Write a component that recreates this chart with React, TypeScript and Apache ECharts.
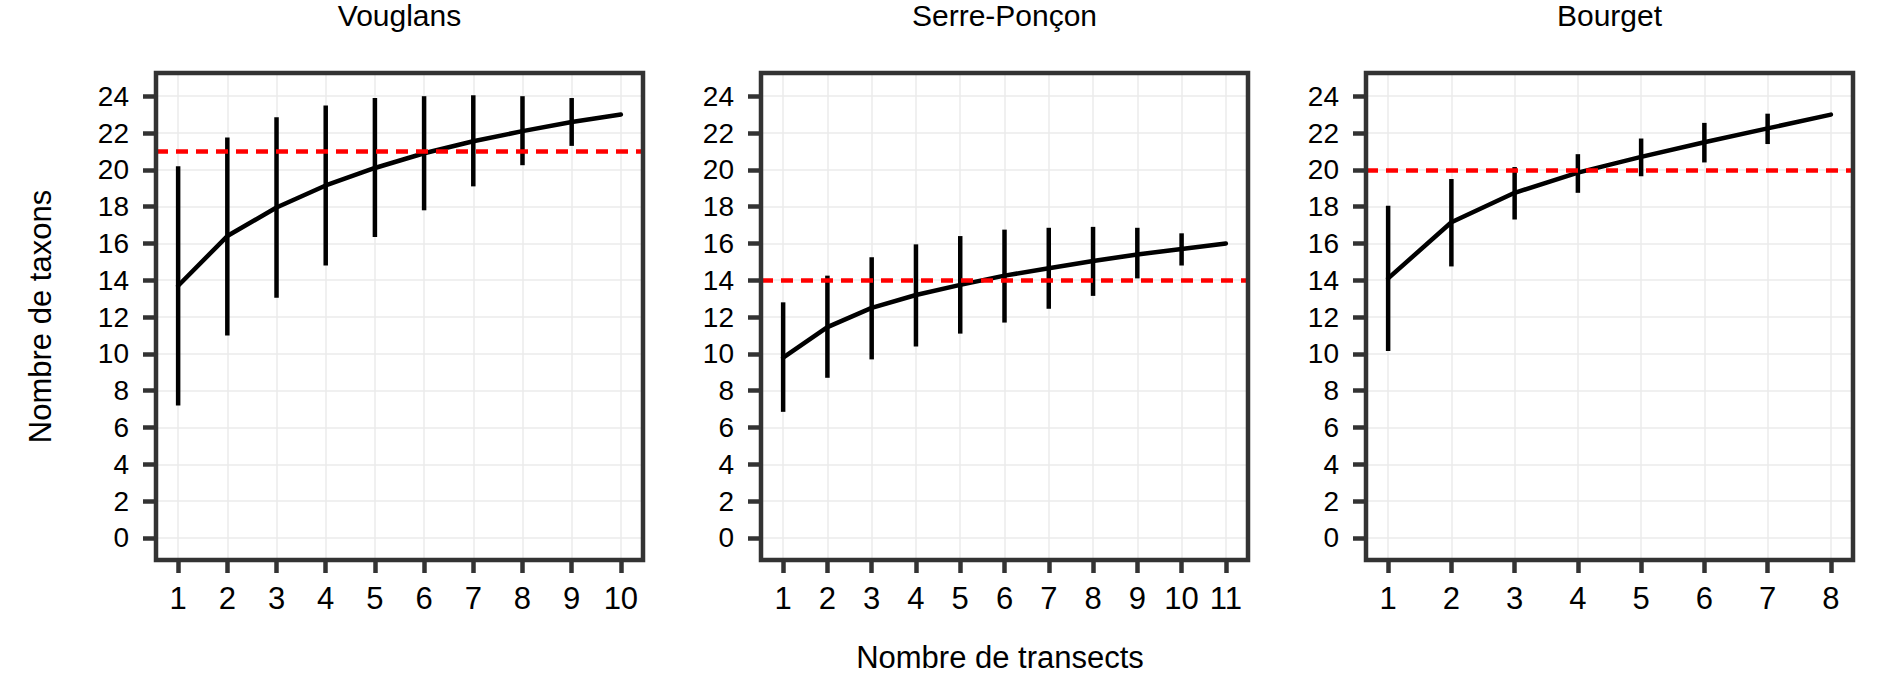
import React, { useEffect, useRef } from 'react';
import * as echarts from 'echarts';

// ---- Data ----
const panelTitles = ['Vouglans', 'Serre-Ponçon', 'Bourget'];
const yTicks = [0, 2, 4, 6, 8, 10, 12, 14, 16, 18, 20, 22, 24];
const xAxisTitle = 'Nombre de transects';
const yAxisTitle = 'Nombre de taxons';

const vouglansX = [1, 2, 3, 4, 5, 6, 7, 8, 9, 10];
const vouglansMean = [13.7, 16.4, 17.95, 19.15, 20.1, 20.9, 21.55, 22.1, 22.6, 23.0];
const vouglansLow = [7.2, 11.0, 13.05, 14.8, 16.35, 17.8, 19.1, 20.25, 21.3, null];
const vouglansHigh = [20.2, 21.75, 22.85, 23.5, 23.9, 24.0, 24.05, 24.0, 23.9, null];
const vouglansRef = 21;

const serreX = [1, 2, 3, 4, 5, 6, 7, 8, 9, 10, 11];
const serreMean = [9.8, 11.45, 12.5, 13.2, 13.75, 14.25, 14.65, 15.05, 15.4, 15.7, 16.0];
const serreLow = [6.85, 8.7, 9.7, 10.4, 11.1, 11.7, 12.45, 13.15, 14.1, 14.8, null];
const serreHigh = [12.8, 14.25, 15.25, 15.95, 16.4, 16.75, 16.85, 16.9, 16.85, 16.55, null];
const serreRef = 14;

const bourgetX = [1, 2, 3, 4, 5, 6, 7, 8];
const bourgetMean = [14.1, 17.15, 18.75, 19.85, 20.7, 21.5, 22.25, 23.0];
const bourgetLow = [10.15, 14.75, 17.3, 18.75, 19.65, 20.4, 21.4, null];
const bourgetHigh = [18.05, 19.5, 20.15, 20.85, 21.7, 22.55, 23.05, null];
const bourgetRef = 20;

const panels = [
  { title: panelTitles[0], x: vouglansX, mean: vouglansMean, low: vouglansLow, high: vouglansHigh, ref: vouglansRef },
  { title: panelTitles[1], x: serreX, mean: serreMean, low: serreLow, high: serreHigh, ref: serreRef },
  { title: panelTitles[2], x: bourgetX, mean: bourgetMean, low: bourgetLow, high: bourgetHigh, ref: bourgetRef },
];

// ---- Layout ----
const W = 1882;
const H = 679;
const PANEL_LEFT = [156, 761, 1366];
const PANEL_W = 487;
const PANEL_TOP = 73;
const PANEL_H = 487;
const Y_MIN = -1.2;
const Y_MAX = 25.26;
const FONT = "'Liberation Sans', Arial, sans-serif";
const BORDER = '#333333';
const GRID = '#ebebeb';

export default function App() {
  const ref = useRef<HTMLDivElement>(null);

  useEffect(() => {
    document.body.style.margin = '0';
    if (!ref.current) return;
    const chart = echarts.init(ref.current, undefined, { renderer: 'svg' });

    const grids: any[] = [];
    const xAxes: any[] = [];
    const yAxes: any[] = [];
    const series: any[] = [];
    const graphics: any[] = [];

    panels.forEach((p, i) => {
      const n = p.x.length;
      const span = p.x[n - 1] - p.x[0];
      grids.push({
        show: true,
        left: PANEL_LEFT[i],
        top: PANEL_TOP,
        width: PANEL_W,
        height: PANEL_H,
        borderColor: BORDER,
        borderWidth: 4.5,
        backgroundColor: 'rgba(0,0,0,0)',
        z: 10,
      });
      xAxes.push({
        type: 'value',
        gridIndex: i,
        position: 'bottom',
        min: p.x[0] - 0.05 * span,
        max: p.x[n - 1] + 0.05 * span,
        interval: 1,
        axisLine: { show: false, onZero: false },
        axisTick: { show: true, customValues: p.x, length: 13, lineStyle: { color: BORDER, width: 4.5 } },
        axisLabel: {
          customValues: p.x,
          margin: 23,
          fontSize: 31,
          color: '#000',
          fontFamily: FONT,
          formatter: (v: number) => (Number.isInteger(v) ? String(v) : ''),
        },
        splitLine: { show: true, lineStyle: { color: GRID, width: 1.5 } },
      });
      yAxes.push({
        type: 'value',
        gridIndex: i,
        position: 'left',
        min: Y_MIN,
        max: Y_MAX,
        interval: 2,
        axisLine: { show: false, onZero: false },
        axisTick: { show: true, customValues: yTicks, length: 13, lineStyle: { color: BORDER, width: 4.5 } },
        axisLabel: {
          customValues: yTicks,
          margin: 27,
          fontSize: 28,
          color: '#000',
          fontFamily: FONT,
          formatter: (v: number) => (Number.isInteger(v) && v >= 0 ? String(v) : ''),
        },
        splitLine: { show: true, lineStyle: { color: GRID, width: 1.5 } },
      });
      series.push({
        type: 'line',
        xAxisIndex: i,
        yAxisIndex: i,
        data: p.x.map((xv, k) => [xv, p.mean[k]]),
        showSymbol: false,
        symbol: 'none',
        lineStyle: { color: '#000', width: 4.5, cap: 'round', join: 'round' },
        z: 2,
        markLine: {
          silent: true,
          symbol: ['none', 'none'],
          label: { show: false },
          lineStyle: { color: '#ff0000', type: [12, 8], width: 4.5 },
          data: [{ yAxis: p.ref }],
          z: 5,
        },
      });
      series.push({
        type: 'custom',
        xAxisIndex: i,
        yAxisIndex: i,
        data: p.x
          .map((xv, k) => [xv, p.low[k], p.high[k]])
          .filter((d) => d[1] !== null && d[2] !== null),
        encode: { x: 0, y: [1, 2] },
        renderItem: (params: any, api: any) => {
          const a = api.coord([api.value(0), api.value(1)]);
          const b = api.coord([api.value(0), api.value(2)]);
          return {
            type: 'line',
            shape: { x1: a[0], y1: a[1], x2: b[0], y2: b[1] },
            style: { stroke: '#000', lineWidth: 4.5 },
          };
        },
        z: 3,
      });
      graphics.push({
        type: 'text',
        x: PANEL_LEFT[i] + PANEL_W / 2,
        y: 15,
        style: {
          text: p.title,
          fontSize: 30,
          fontFamily: FONT,
          fill: '#000',
          align: 'center',
          verticalAlign: 'middle',
        },
      });
    });

    graphics.push({
      type: 'text',
      x: 1000,
      y: 657,
      style: {
        text: xAxisTitle,
        fontSize: 31,
        fontFamily: FONT,
        fill: '#000',
        align: 'center',
        verticalAlign: 'middle',
      },
    });
    graphics.push({
      type: 'text',
      x: 40,
      y: PANEL_TOP + PANEL_H / 2,
      rotation: Math.PI / 2,
      style: {
        text: yAxisTitle,
        fontSize: 31,
        fontFamily: FONT,
        fill: '#000',
        align: 'center',
        verticalAlign: 'middle',
      },
    });

    chart.setOption({
      animation: false,
      backgroundColor: '#ffffff',
      grid: grids,
      xAxis: xAxes,
      yAxis: yAxes,
      series,
      graphic: graphics,
    });

    return () => {
      chart.dispose();
    };
  }, []);

  return <div ref={ref} style={{ width: W, height: H }} />;
}
